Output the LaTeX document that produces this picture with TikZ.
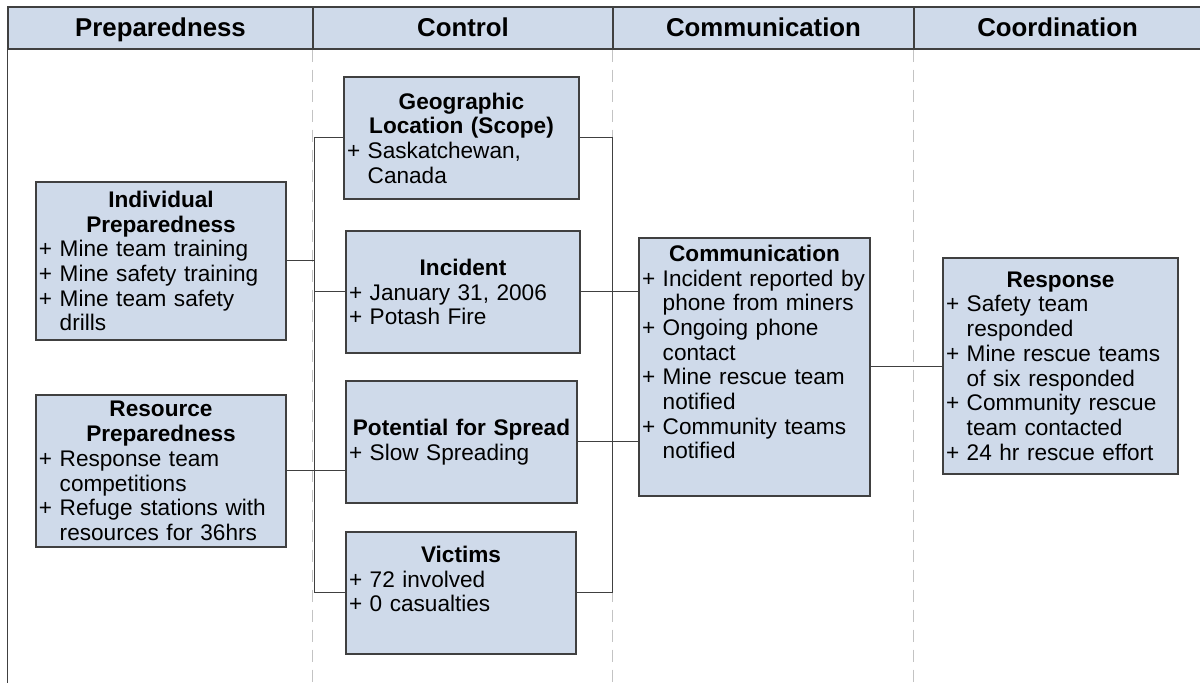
\documentclass[tikz,border=0pt]{standalone}
\usepackage{fontspec}
\setmainfont{Liberation Sans}

\definecolor{boxfill}{RGB}{207,218,234}
\definecolor{edge}{RGB}{64,64,64}
\definecolor{lane}{RGB}{195,195,195}

\newcommand{\ttl}[1]{{\centering\bfseries #1\par}}
\newcommand{\itm}[1]{\setbox0\hbox{+ }\hangindent=\wd0\hangafter=1\noindent+ #1\par}

\begin{document}
\begin{tikzpicture}[x=0.5pt,y=-0.5pt,
    head/.style={draw=edge,fill=boxfill,line width=0.75pt,minimum height=21pt,inner sep=0pt,text height=10.3pt,text depth=1.6pt,font=\fontsize{12.9}{14}\selectfont\bfseries},
    card/.style={draw=edge,fill=boxfill,line width=0.75pt,inner xsep=1.5pt,inner ysep=0pt,align=left,font=\fontsize{11.3}{12.35}\selectfont},
    link/.style={draw=edge,line width=0.5pt},
    lanesep/.style={draw=lane,line width=0.6pt,dash pattern=on 6pt off 4pt}]
        \useasboundingbox (0,0) rectangle (1200,683);

        \node[head,minimum width=152.5pt] (hprep) at (160.5,28) {Preparedness};
        \node[head,minimum width=150pt] (hctrl) at (463,28) {Control};
        \node[head,minimum width=150.5pt] (hcomm) at (763.5,28) {Communication};
        \node[head,minimum width=143.5pt] (hcoord) at (1057.5,28) {Coordination};

        \draw[lanesep] (hctrl.south west) -- +(0,634);
        \draw[lanesep] (hcomm.south west) -- +(0,634);
        \draw[lanesep] (hcoord.south west) -- +(0,634);
        \draw[edge,line width=0.75pt] (hprep.south west) -- +(0,634);

        \node[card,minimum width=125pt,text width=122pt,minimum height=79pt] (indiv) at (161,261)
            {\ttl{Individual\\Preparedness}\itm{Mine team training}\itm{Mine safety training}\itm{Mine team safety\newline drills}};
        \node[card,minimum width=125pt,text width=122pt,minimum height=76pt] (res) at (161,471)
            {\ttl{Resource\\Preparedness}\itm{Response team\newline competitions}\itm{Refuge stations with\newline resources for 36hrs}};

        \node[card,minimum width=117.5pt,text width=114.5pt,minimum height=61pt] (geo) at (461.5,138)
            {\ttl{Geographic\\Location (Scope)}\itm{Saskatchewan,\newline Canada}};
        \node[card,minimum width=117pt,text width=114pt,minimum height=61pt] (inc) at (463,292)
            {\ttl{Incident}\itm{January 31, 2006}\itm{Potash Fire}};
        \node[card,minimum width=115.5pt,text width=112.5pt,minimum height=61pt] (pot) at (461.5,442)
            {\ttl{Potential for Spread}\itm{Slow Spreading}};
        \node[card,minimum width=115pt,text width=112pt,minimum height=61pt] (vic) at (461,593)
            {\ttl{Victims}\itm{72 involved}\itm{0 casualties\rule[-14pt]{0pt}{14pt}}};

        \node[card,minimum width=115.5pt,text width=112.5pt,minimum height=129pt] (comm) at (754.5,367)
            {\ttl{Communication}\itm{Incident reported by\newline phone from miners}\itm{Ongoing phone\newline contact}\itm{Mine rescue team\newline notified}\itm{Community teams\newline notified\rule[-15pt]{0pt}{15pt}}};
        \node[card,minimum width=117.5pt,text width=114.5pt,minimum height=108pt] (resp) at (1060.5,366)
            {\ttl{Response}\itm{Safety team\newline responded}\itm{Mine rescue teams\newline of six responded}\itm{Community rescue\newline team contacted}\itm{24 hr rescue effort}};

        \coordinate (lbus) at (314,0);
        \coordinate (rbus) at (612,0);
        \draw[link] (geo.west) -- (geo.west -| lbus) -- (vic.west -| lbus) -- (vic.west);
        \draw[link] (indiv.east) -- (indiv.east -| lbus);
        \draw[link] (inc.west) -- (inc.west -| lbus);
        \draw[link] (res.east) -- (res.east -| pot.west);
        \draw[link] (geo.east) -- (geo.east -| rbus) -- (vic.east -| rbus) -- (vic.east);
        \draw[link] (inc.east) -- (inc.east -| comm.west);
        \draw[link] (pot.east) -- (pot.east -| comm.west);
        \draw[link] (comm.east) -- (comm.east -| resp.west);
\end{tikzpicture}
\end{document}
